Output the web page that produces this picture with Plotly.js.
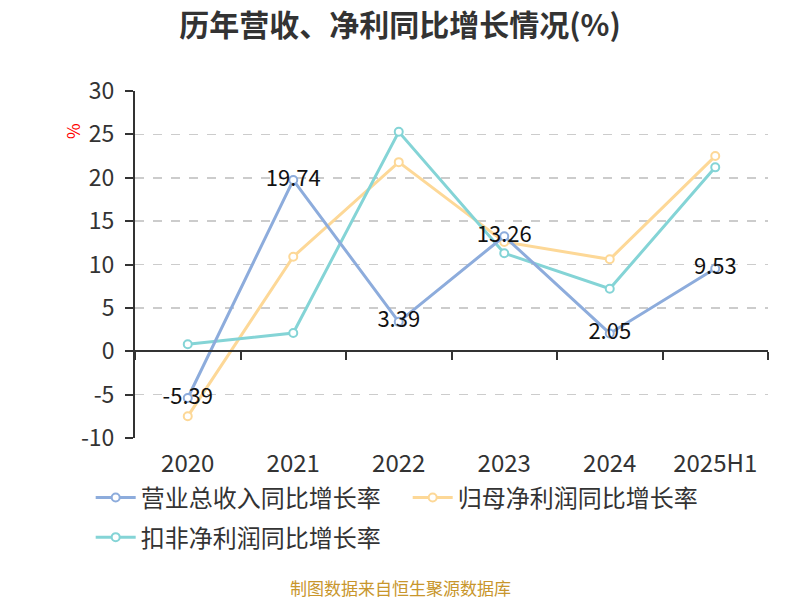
<!DOCTYPE html>
<html>
<head>
<meta charset="utf-8">
<script src="https://cdn.plot.ly/plotly-3.0.1.min.js"></script>
<style>
  html, body { margin: 0; padding: 0; background: #fff; }
  #chart { width: 800px; height: 600px; }
</style>
</head>
<body>
<div id="chart"></div>
<script>
// ─── data ───────────────────────────────────────────────
var years = ['2020', '2021', '2022', '2023', '2024', '2025H1'];
var revenueGrowth = [-5.39, 19.74, 3.39, 13.26, 2.05, 9.53];   // 营业总收入同比增长率
var netProfitGrowth = [-7.5, 10.9, 21.8, 12.6, 10.6, 22.5];    // 归母净利润同比增长率
var deductedGrowth = [0.8, 2.1, 25.3, 11.3, 7.2, 21.2];        // 扣非净利润同比增长率
var yTicks = [-10, -5, 0, 5, 10, 15, 20, 25, 30];

var FONT = '"Noto Sans CJK SC", "Noto Sans", sans-serif';
var yMin = -10, yMax = 30;

function lineTrace(name, vals, color, withLabels) {
  var t = {
    type: 'scatter',
    mode: withLabels ? 'lines+markers+text' : 'lines+markers',
    name: name,
    x: years,
    y: vals,
    line: { color: color, width: 3 },
    marker: { symbol: 'circle', size: 8, color: '#fff', line: { color: color, width: 2 } },
    hoverinfo: 'x+y+name',
  };
  if (withLabels) {
    t.text = vals.map(function (v) { return v.toFixed(2); });
    t.textposition = 'middle center';
    t.textfont = { family: FONT, size: 22, color: '#111' };
    t.cliponaxis = false;
  }
  return t;
}

var revTrace = lineTrace('营业总收入同比增长率', revenueGrowth, '#8dacdc', true);
var netTrace = lineTrace('归母净利润同比增长率', netProfitGrowth, '#fdd897', false);
var dedTrace = lineTrace('扣非净利润同比增长率', deductedGrowth, '#84d4d6', false);
revTrace.legendrank = 1;
netTrace.legendrank = 2;
dedTrace.legend = 'legend2';   // second legend row

// labelled series drawn last so it sits on top
var traces = [netTrace, dedTrace, revTrace];

// dummy trace so the zero-line category axis gets drawn
traces.push({
  type: 'scatter', mode: 'none', x: years, y: years.map(function () { return 0; }),
  xaxis: 'x2', showlegend: false, hoverinfo: 'skip',
});

var zeroPos = (0 - yMin) / (yMax - yMin);

var legendBase = {
  orientation: 'h',
  x: -0.07,
  xanchor: 'left',
  yanchor: 'top',
  bgcolor: 'rgba(0,0,0,0)',
  font: { family: FONT, size: 24, color: '#333' },
  entrywidth: 262,
  entrywidthmode: 'pixels',
  itemwidth: 40,
  traceorder: 'normal',
};

var layout = {
  width: 800,
  height: 600,
  paper_bgcolor: '#fff',
  plot_bgcolor: '#fff',
  margin: { l: 135, r: 32, t: 91, b: 162 },
  font: { family: FONT, color: '#333' },
  title: {
    text: '<b>历年营收、净利同比增长情况(%)</b>',
    x: 0.5, xref: 'container', xanchor: 'center',
    y: 0.958, yanchor: 'middle',
    font: { family: FONT, size: 30, color: '#333' },
  },
  xaxis: {
    type: 'category',
    range: [-0.5, 5.5],
    showline: false,
    showgrid: false,
    zeroline: false,
    ticks: '',
    ticklabelstandoff: 9,
    tickfont: { family: FONT, size: 24, color: '#333' },
    fixedrange: true,
  },
  xaxis2: {
    type: 'category',
    overlaying: 'x',
    matches: 'x',
    anchor: 'free',
    position: zeroPos,
    range: [-0.5, 5.5],
    showline: true,
    linecolor: '#333',
    linewidth: 2,
    showgrid: false,
    zeroline: false,
    ticks: 'outside',
    tickson: 'boundaries',
    ticklen: 8,
    tickwidth: 2,
    tickcolor: '#333',
    showticklabels: false,
    fixedrange: true,
  },
  yaxis: {
    range: [yMin, yMax],
    tickmode: 'array',
    tickvals: yTicks,
    ticktext: yTicks.map(String),
    showline: true,
    linecolor: '#333',
    linewidth: 2,
    ticks: 'outside',
    ticklen: 8,
    tickwidth: 2,
    tickcolor: '#333',
    ticklabelstandoff: 6,
    showgrid: true,
    gridcolor: '#cccccc',
    gridwidth: 1.5,
    griddash: 'dash',
    zeroline: false,
    tickfont: { family: FONT, size: 23, color: '#333' },
    fixedrange: true,
  },
  showlegend: true,
  legend: Object.assign({}, legendBase, { y: -0.108 }),
  legend2: Object.assign({}, legendBase, { y: -0.222 }),
  annotations: [
    {
      text: '%',
      xref: 'paper', yref: 'paper',
      x: (72 - 135) / 633, y: (438 - 131) / 347,
      xanchor: 'center', yanchor: 'middle',
      textangle: -90,
      showarrow: false,
      font: { family: FONT, size: 17, color: '#ff0000' },
    },
    {
      text: '制图数据来自恒生聚源数据库',
      xref: 'paper', yref: 'paper',
      x: (400 - 135) / 633, y: -0.43,
      xanchor: 'center', yanchor: 'middle',
      showarrow: false,
      font: { family: FONT, size: 17, color: '#c8962c' },
    },
  ],
};

Plotly.newPlot('chart', traces, layout, { displayModeBar: false, staticPlot: true });
</script>
</body>
</html>
